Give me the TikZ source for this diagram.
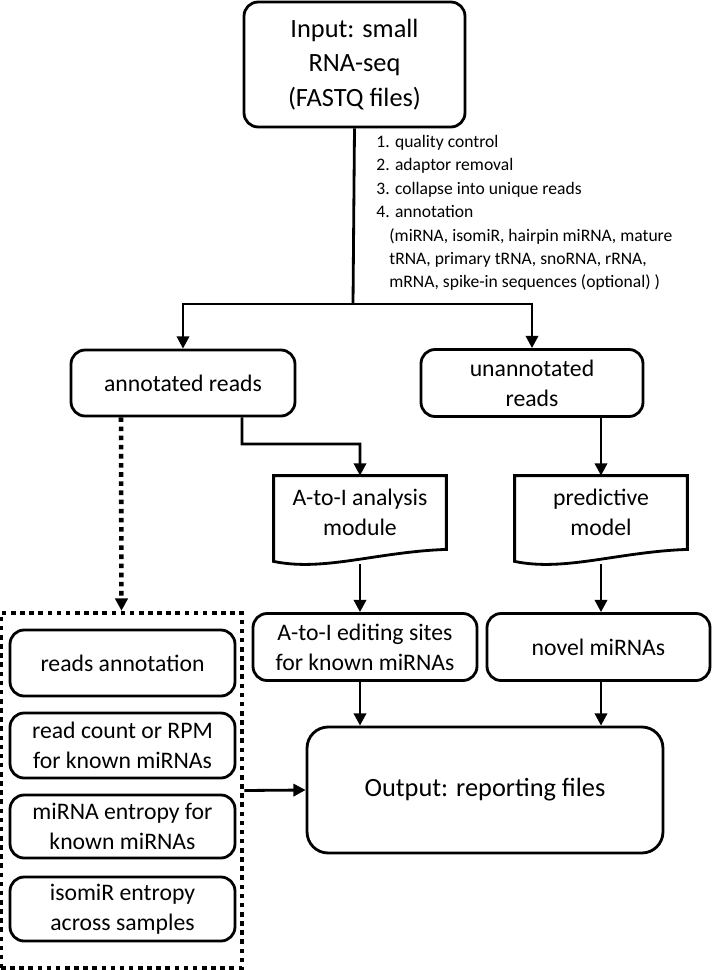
\documentclass[tikz,border=0pt]{standalone}
\usepackage{fontspec}
\setmainfont{Carlito}
\usetikzlibrary{arrows.meta}

\begin{document}
\begin{tikzpicture}[x = 0.02cm, y = -0.02cm, line width = 1.6pt,
  box/.style = {draw, rounded corners = 8pt, align = center, inner sep = 0pt,
    font = \fontsize{13.5}{17}\selectfont},
  doc/.style = {align = center, inner sep = 0pt, minimum width = 3.4cm,
    minimum height = 1.42cm, font = \fontsize{13.5}{17}\selectfont},
  arr/.style = {-{Triangle[length = 7pt, width = 7pt]}},
  dots/.style = {line width = 2.6pt, dash pattern = on 2.6pt off 2.6pt}]
\useasboundingbox (0,0) rectangle (712,970);
% top
\node[box, minimum width = 4.42cm, minimum height = 2.5cm,
  font = \fontsize{15}{19.8}\selectfont] (input) at (354.5,64.5)
  {Input: small\\RNA-seq\\(FASTQ files)};
\node[anchor = north west, align = left, inner sep = 0pt,
  font = \fontsize{10}{13.3}\selectfont] (steps) at (375,134)
  {1. quality control\\2. adaptor removal\\3. collapse into unique reads\\4. annotation\\
  \hspace{7.4pt}(miRNA, isomiR, hairpin miRNA, mature\\
  \hspace{7.4pt}tRNA, primary tRNA, snoRNA, rRNA,\\
  \hspace{7.4pt}mRNA, spike-in sequences (optional) )};
\coordinate (split) at (353,304);
\node[box, minimum width = 4.48cm, minimum height = 1.32cm] (annot) at (183,383) {annotated reads};
\node[box, minimum width = 4.44cm, minimum height = 1.34cm] (unannot) at (532,383) {unannotated\\reads};
% middle
\node[doc] (atoi) at (360,512.5) {A-to-I analysis\\module};
\node[doc] (pred) at (601,512.5) {predictive\\model};
\foreach \d in {atoi, pred}
  \draw (\d.south west) -- (\d.north west) -- (\d.north east) -- ([yshift = 0.0cm]\d.south east)
    .. controls ([xshift = -1.4cm, yshift = -0.05cm]\d.south east)
    and ([xshift = 1.0cm, yshift = -0.45cm]\d.south west)
    .. ([yshift = -0.24cm]\d.south west) -- (\d.south west);
\node[box, minimum width = 4.48cm, minimum height = 1.34cm] (edit) at (365,647) {A-to-I editing sites\\for known miRNAs};
\node[box, minimum width = 4.46cm, minimum height = 1.34cm] (novel) at (598.5,647) {novel miRNAs};
% bottom
\node[box, minimum width = 7.12cm, minimum height = 2.52cm, rounded corners = 12pt,
  font = \fontsize{15}{19.8}\selectfont] (output) at (485,790) {Output: reporting files};
\node[draw, dots, minimum width = 4.82cm, minimum height = 7.1cm, inner sep = 0pt] (grp) at (121.5,790.5) {};
\node[box, minimum width = 4.5cm, minimum height = 1.32cm] (ann) at (122.5,663) {reads annotation};
\node[box, minimum width = 4.5cm, minimum height = 1.3cm] (cnt) at (122.5,745.5) {read count or RPM\\for known miRNAs};
\node[box, minimum width = 4.5cm, minimum height = 1.26cm] (ent) at (122.5,826.5) {miRNA entropy for\\known miRNAs};
\node[box, minimum width = 4.5cm, minimum height = 1.28cm] (iso) at (122.5,909) {isomiR entropy\\across samples};
% connectors
\draw (input.south) -- (split);
\draw[arr] (split) -| (annot.north);
\draw[arr] (split) -| (unannot.north);
\coordinate (bend) at (242,444);
\draw[arr] ([xshift = 1.18cm]annot.south) -- (bend) -| (atoi.north);
\draw[arr] (unannot.south -| pred.north) -- (pred.north);
\draw[arr, dots] ([xshift = -1.24cm]annot.south) -- (grp.north);
\draw[arr] ([yshift = -0.3cm]atoi.south) -- (edit.north -| atoi.south);
\draw[arr] ([yshift = -0.3cm]pred.south) -- (novel.north -| pred.south);
\draw[arr] (edit.south -| atoi.south) -- (output.north -| atoi.south);
\draw[arr] (novel.south -| pred.south) -- (output.north -| pred.south);
\draw[arr] (grp.east) -- (output.west);
\end{tikzpicture}
\end{document}
